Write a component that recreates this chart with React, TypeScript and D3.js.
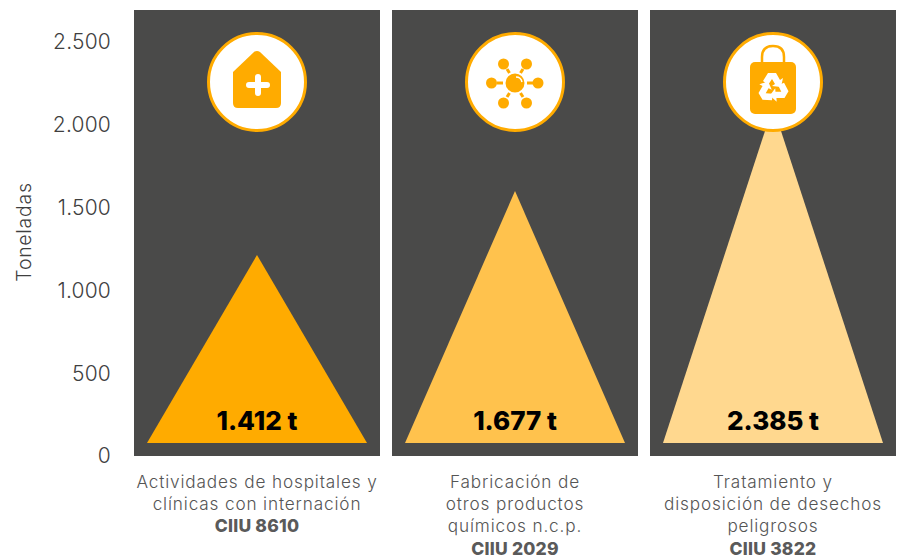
import React from "react";
import * as d3 from "d3";

const categories = ["CIIU 8610", "CIIU 2029", "CIIU 3822"];
const labelLines = [
  ["Actividades de hospitales y", "clínicas con internación"],
  ["Fabricación de", "otros productos", "químicos n.c.p."],
  ["Tratamiento y", "disposición de desechos", "peligrosos"],
];
const valueLabels = ["1.412 t", "1.677 t", "2.385 t"];
const apexValues = [1214, 1600, 2110];
const baseValue = 78;
const colors = ["#ffab00", "#ffc24d", "#ffd88f"];
const ticks = [0, 500, 1000, 1500, 2000, 2500];
const tickLabels = ["0", "500", "1.000", "1.500", "2.000", "2.500"];

const W = 907, H = 560;
const ORANGE = "#ffab00";
const FONT = "Inter, 'Open Sans', sans-serif";

const x = d3.scaleBand<string>().domain(categories).range([134, 896]).paddingInner(12 / 258).paddingOuter(0);
const y = d3.scaleLinear().domain([0, 2693]).range([456, 10]);

function Hospital() {
  return (
    <g>
      <path d="M-24,-12 L-3,-32 Q0,-34 3,-32 L24,-12 V19 Q24,24 19,24 H-19 Q-24,24 -24,19 Z" fill={ORANGE} transform="translate(0,2)" />
      <path d="M0,-7 V9 M-9,1 H9" stroke="#fff" strokeWidth={6} strokeLinecap="round" transform="translate(1,2)" />
    </g>
  );
}

function Molecule() {
  const sat: [number, number, number, number, number, number][] = [
    [-11.5, -18, -8, -13, -5.5, -9],
    [11.5, -18, 8, -13, 5.5, -9],
    [-23.5, 1, -18, 1, -12, 1],
    [23, 1, 18, 1, 12, 1],
    [-11.5, 21, -8, 15, -5.5, 11],
    [11.5, 21, 8, 15, 5.5, 11],
  ];
  return (
    <g>
      {sat.map(([cx, cy, x1, y1, x2, y2], i) => (
        <g key={i}>
          <circle cx={cx} cy={cy} r={5.5} fill={ORANGE} />
          <line x1={x1} y1={y1} x2={x2} y2={y2} stroke={ORANGE} strokeWidth={3} />
        </g>
      ))}
      <circle cx={0} cy={1} r={9.5} fill={ORANGE} />
      <path d="M1,-5 Q6,-5 7,0" fill="none" stroke="#fff" strokeWidth={1.5} />
    </g>
  );
}

function Bag() {
  const arrow = "M-10,-7 L-5,-15 H3 L7,-8 L10,-10 L8,-1 L-1,-2 L2,-4 L-1,-9 L-5,-3 Z";
  return (
    <g>
      <path d="M-11,-18 V-24 Q-11,-35 0,-35 Q11,-35 11,-24 V-18" fill="none" stroke={ORANGE} strokeWidth={2.5} transform="translate(0,-1)" />
      <rect x={-23} y={-20} width={46} height={52} rx={5} fill={ORANGE} />
      <g transform="translate(0,6)" fill="#fff">
        <path d={arrow} />
        <path d={arrow} transform="rotate(120)" />
        <path d={arrow} transform="rotate(240)" />
      </g>
    </g>
  );
}

const icons = [<Hospital />, <Molecule />, <Bag />];
const iconCx = [257, 515, 773];

export default function App() {
  const triangle = d3.line<[number, number]>();
  return (
    <svg width={W} height={H} style={{ position: "absolute", left: 0, top: 0, background: "#fff" }} fontFamily={FONT}>
      {ticks.map((t, i) => (
        <text key={t} x={111} y={y(t)} dy="0.35em" textAnchor="end" fontSize={21} fontWeight={300} letterSpacing={0.2} fill="#3f3f3f">{tickLabels[i]}</text>
      ))}
      <text transform={`translate(24,232) rotate(-90)`} textAnchor="middle" dy="0.35em" fontSize={19.5} fontWeight={300} letterSpacing={0.7} fill="#3f3f3f">Toneladas</text>
      {categories.map((c, i) => {
        const bx = x(c)!;
        const bw = x.bandwidth();
        const cx = bx + bw / 2;
        const half = 110;
        const d = triangle([[cx - half, y(baseValue)], [cx, y(apexValues[i])], [cx + half, y(baseValue)]])! + "Z";
        const lines = labelLines[i];
        return (
          <g key={c}>
            <rect x={bx} y={y.range()[1]} width={bw} height={y.range()[0] - y.range()[1]} fill="#4a4a49" />
            <path d={d} fill={colors[i]} />
            <text x={cx} y={430} textAnchor="middle" fontSize={26} fontWeight={800} fill="#000">{valueLabels[i]}</text>
            <g transform={`translate(${iconCx[i]},82)`}>
              <circle r={48.5} fill="#fff" stroke={ORANGE} strokeWidth={3} />
              {icons[i]}
            </g>
            {lines.map((l, j) => (
              <text key={j} x={cx} y={488 + j * 22.2} textAnchor="middle" fontSize={17.2} fontWeight={300} letterSpacing={0.85} fill="#555">{l}</text>
            ))}
            <text x={cx} y={488 + lines.length * 22.2} textAnchor="middle" fontSize={17.5} fontWeight={800} letterSpacing={0.2} fill="#5a5a5a">{c}</text>
          </g>
        );
      })}
    </svg>
  );
}
